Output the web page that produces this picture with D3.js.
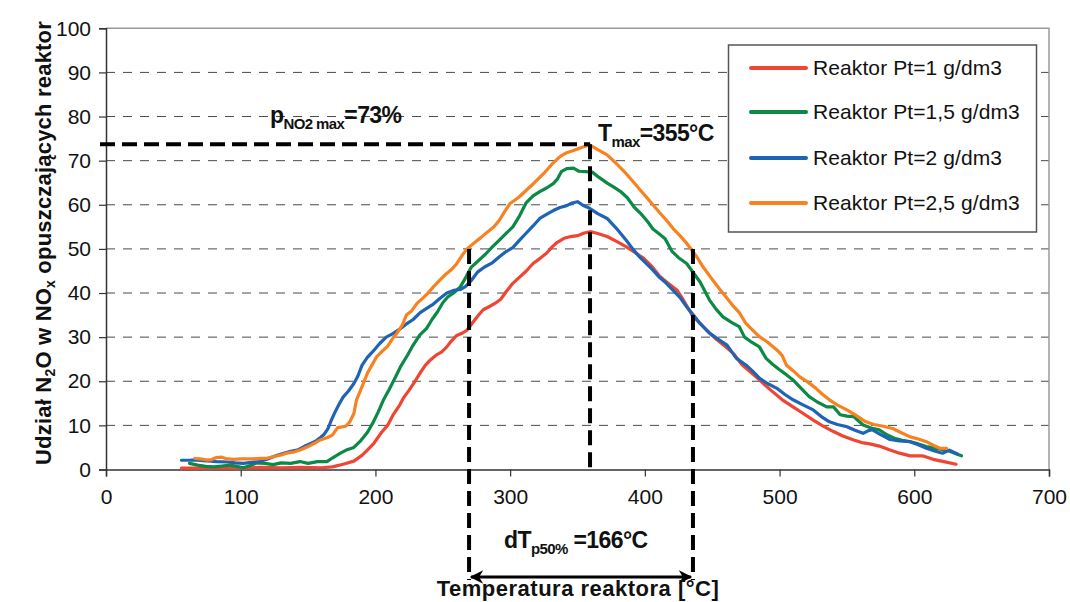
<!DOCTYPE html>
<html>
<head>
<meta charset="utf-8">
<script src="https://cdn.jsdelivr.net/npm/d3@7"></script>
<style>
  body { margin: 0; background: #fff; }
  svg text { font-family: "Liberation Sans", Arial, sans-serif; }
</style>
</head>
<body>
<div id="chart"></div>
<script>
// data
var xTicks = [0, 100, 200, 300, 400, 500, 600, 700];
var yTicks = [0, 10, 20, 30, 40, 50, 60, 70, 80, 90, 100];

var seriesNames = ["Reaktor Pt=1 g/dm3", "Reaktor Pt=1,5 g/dm3", "Reaktor Pt=2 g/dm3", "Reaktor Pt=2,5 g/dm3"];
var seriesColors = ["#ef4634", "#0b8a46", "#1f64b4", "#f7821f"];

var redT = [56,70,85,100,115,130,145,160,168,176,184,190,194,199,204,209,213,218,221,225,229,233,237,241,245,249,253,256,260,265,268,272,276,280,285,289,293,297,302,307,312,317,322,327,331,335,340,345,350,355,360,365,372,379,386,392,399,405,411,417,424,429,435,442,448,454,460,466,472,478,484,490,495,502,510,517,525,532,540,547,555,561,567,574,582,589,597,606,614,622,631];
var redV = [0.3,0.3,0.4,0.3,0.5,0.4,0.5,0.4,0.6,1.2,1.9,3.2,4.4,6.0,8.2,10.0,12.3,14.6,16.3,18.0,19.8,21.8,23.6,24.9,25.9,26.6,27.8,29.0,30.3,31.0,31.6,33.2,34.8,36.2,37.0,37.7,38.6,40.3,42.2,43.6,45.0,46.7,47.8,49.0,50.4,51.5,52.4,52.8,53.0,53.6,53.9,53.5,52.8,51.7,50.5,49.3,47.9,46.1,43.8,42.3,40.6,38.2,35.0,32.8,30.9,29.3,27.8,26.2,23.8,22.2,20.6,18.9,17.6,15.8,14.2,12.8,11.2,9.9,8.6,7.6,6.7,6.1,5.8,5.3,4.4,3.7,3.1,3.1,2.3,1.8,1.2];

var greenT = [62,68,74,80,86,92,97,102,107,112,118,124,130,137,144,150,157,164,168,174,179,184,189,194,198,202,206,210,215,219,224,228,233,238,242,246,250,254,258,263,267,271,276,282,287,292,297,302,307,312,317,322,327,332,335,338,342,347,351,356,361,366,372,377,382,387,392,397,402,406,411,415,420,425,431,436,441,448,453,458,464,470,474,479,485,490,495,500,505,510,516,522,528,535,540,545,550,555,562,568,574,580,586,591,597,603,609,616,624,630,635];
var greenV = [1.4,1.0,0.7,0.6,0.8,1.0,0.7,0.4,0.9,1.5,1.4,1.1,1.5,1.4,1.8,1.4,1.8,1.8,2.6,3.7,4.5,5.0,6.5,8.4,10.5,13.0,15.8,18.0,21.0,23.5,26.0,28.2,30.5,32.0,34.0,35.7,37.8,39.2,40.0,41.4,43.5,45.8,47.2,48.9,50.5,52.0,53.5,55.0,57.5,60.5,62.0,63.0,63.8,64.8,65.8,67.5,68.2,68.3,67.6,67.5,67.4,66.2,64.9,64.0,63.0,61.6,59.5,58.0,56.2,54.5,53.3,52.3,49.5,48.0,46.7,44.6,42.5,38.4,36.3,34.6,33.4,32.4,30.0,28.9,27.8,25.2,23.8,22.6,21.5,20.3,18.4,16.5,15.3,14.2,14.2,12.4,12.1,12.0,10.1,9.4,9.0,7.8,7.0,6.6,6.3,5.8,5.2,4.8,4.4,3.7,3.1];

var blueT = [56,62,66,72,78,82,90,96,102,108,114,120,126,132,137,142,147,152,156,159,162,165,167,170,173,176,180,184,187,190,194,198,203,208,213,218,223,228,233,238,243,248,253,258,263,267,271,276,281,287,292,297,302,307,312,317,322,327,332,337,342,346,350,354,359,365,372,379,386,391,396,401,406,411,416,421,426,431,435,441,448,454,461,468,475,480,485,491,498,504,510,517,525,531,537,543,550,556,562,566,569,575,582,589,597,603,609,615,621,626,632];
var blueV = [2.1,2.1,2.2,2.0,1.9,1.8,1.7,1.5,1.4,1.6,1.8,2.4,3.1,3.7,4.1,4.4,5.2,5.9,6.5,7.2,8.0,9.4,11.0,13.0,14.8,16.4,17.8,19.5,21.2,23.6,25.4,26.7,28.5,30.0,30.8,31.8,33.0,34.0,35.5,36.5,37.5,38.8,40.0,40.6,40.8,41.5,42.8,44.8,45.9,46.9,48.2,49.4,50.3,52.0,53.6,55.2,56.9,57.8,58.7,59.4,59.8,60.4,60.7,59.9,59.2,58.0,56.9,54.6,52.0,50.0,48.2,46.7,45.2,43.5,42.2,40.6,39.0,36.9,35.4,33.1,30.9,29.6,28.2,25.2,23.7,22.3,20.7,19.5,18.4,17.0,15.8,14.7,13.5,12.0,10.8,10.2,9.7,8.9,8.2,8.8,9.0,7.9,6.8,6.5,6.3,5.6,4.8,4.2,3.7,4.4,3.5];

var orangeT = [66,70,74,78,82,86,90,95,100,108,115,120,124,130,134,140,144,150,155,159,164,168,172,178,181,184,186,189,194,198,201,205,209,213,216,220,223,227,231,235,239,243,248,252,256,260,265,268,273,278,283,288,292,296,300,306,312,318,325,331,337,342,347,353,359,365,372,379,386,392,397,401,406,411,416,421,426,431,434,439,443,449,456,461,466,470,475,480,485,491,498,502,505,510,515,521,527,532,537,543,550,557,564,570,577,584,590,597,603,609,614,619,624];
var orangeV = [2.5,2.4,2.2,2.2,2.7,2.8,2.4,2.3,2.4,2.4,2.5,2.6,2.9,3.3,3.7,4.0,4.4,5.2,6.0,6.7,7.2,7.8,9.5,9.8,10.8,12.7,15.8,18.0,21.8,24.0,25.6,26.8,27.9,29.8,30.9,32.8,35.0,36.0,37.7,38.8,40.0,41.4,43.0,44.2,45.2,46.5,48.8,50.0,51.3,52.5,53.8,55.0,56.5,58.5,60.3,61.6,63.3,65.0,67.1,69.2,70.9,71.8,72.3,73.0,73.6,72.5,71.3,69.3,67.1,65.0,63.2,61.8,60.0,58.2,56.5,54.6,53.0,51.3,50.1,48.0,46.0,43.5,40.7,38.8,36.9,35.6,33.1,31.6,30.1,28.9,27.1,25.8,23.7,22.4,21.0,19.8,18.4,17.0,15.8,14.6,13.5,12.2,10.8,10.2,9.8,9.3,8.4,7.4,6.9,6.3,5.5,4.8,4.8];

// annotation values (where the dashed guides sit on the picture)
var pMaxLine = 73.7;
var tMaxLine = 359.3;
var t50Lines = [269.5, 435.7];
var level50 = 50;

var svgWidth = 1070;
var svgHeight = 602;

var svg = d3.select("#chart")
  .append("svg")
  .attr("width", svgWidth)
  .attr("height", svgHeight);

var xScale = d3.scaleLinear().domain([0, 700]).range([106, 1049]);
var yScale = d3.scaleLinear().domain([0, 100]).range([469.5, 28.3]);

// gridlines
svg.append("g")
  .selectAll("line")
  .data(yTicks.filter(d => d > 0 && d < 100))
  .enter()
  .append("line")
  .attr("x1", xScale(0))
  .attr("x2", xScale(700))
  .attr("y1", d => yScale(d))
  .attr("y2", d => yScale(d))
  .attr("stroke", "#4a4a4a")
  .attr("stroke-width", 1)
  .attr("stroke-dasharray", "9,8");

// plot frame top/right
svg.append("path")
  .attr("d", `M${xScale(0)},${yScale(100)}H${xScale(700)}V${yScale(0)}`)
  .attr("fill", "none")
  .attr("stroke", "#9a9a9a")
  .attr("stroke-width", 1.5);

// axes
var xAxis = d3.axisBottom(xScale).tickValues(xTicks).tickSizeOuter(0).tickSize(7).tickPadding(8);
var yAxis = d3.axisLeft(yScale).tickValues(yTicks).tickSizeOuter(0).tickSize(7).tickPadding(8);

var gx = svg.append("g")
  .attr("transform", `translate(0, ${yScale(0)})`)
  .call(xAxis);
var gy = svg.append("g")
  .attr("transform", `translate(${xScale(0)}, 0)`)
  .call(yAxis);

[gx, gy].forEach(function(g) {
  g.select(".domain").attr("stroke", "#333").attr("stroke-width", 1.5);
  g.selectAll(".tick line").attr("stroke", "#333").attr("stroke-width", 1.2);
  g.selectAll(".tick text")
    .attr("font-size", "21px")
    .attr("font-family", "Liberation Sans, Arial, sans-serif")
    .attr("fill", "#111");
});
gx.selectAll(".tick text").attr("dy", "0.95em");

// curves
var line = d3.line()
  .x(d => xScale(d[0]))
  .y(d => yScale(d[1]));

var series = [
  d3.zip(redT, redV),
  d3.zip(greenT, greenV),
  d3.zip(blueT, blueV),
  d3.zip(orangeT, orangeV)
];

svg.append("g")
  .selectAll("path")
  .data(series)
  .enter()
  .append("path")
  .attr("d", line)
  .attr("fill", "none")
  .attr("stroke", (d, i) => seriesColors[i])
  .attr("stroke-width", 3.2)
  .attr("stroke-linejoin", "round")
  .attr("stroke-linecap", "round");

// thick dashed guides
var guide = svg.append("g")
  .attr("stroke", "#000")
  .attr("stroke-width", 4)
  .attr("stroke-dasharray", "15,7")
  .attr("fill", "none");

guide.append("line")
  .attr("x1", xScale(0) - 6)
  .attr("x2", xScale(tMaxLine))
  .attr("y1", yScale(pMaxLine))
  .attr("y2", yScale(pMaxLine));

guide.append("line")
  .attr("x1", xScale(tMaxLine))
  .attr("x2", xScale(tMaxLine))
  .attr("y1", yScale(pMaxLine))
  .attr("y2", yScale(0));

guide.selectAll(".t50")
  .data(t50Lines)
  .enter()
  .append("line")
  .attr("x1", d => xScale(d))
  .attr("x2", d => xScale(d))
  .attr("y1", yScale(level50))
  .attr("y2", 580);

// double arrow for dT
svg.append("defs")
  .append("marker")
  .attr("id", "arrow")
  .attr("viewBox", "0 0 10 10")
  .attr("refX", 9)
  .attr("refY", 5)
  .attr("markerWidth", 6)
  .attr("markerHeight", 4.5)
  .attr("orient", "auto-start-reverse")
  .append("path")
  .attr("d", "M0,0 L10,5 L0,10 L3,5 Z")
  .attr("fill", "#000");

svg.append("line")
  .attr("x1", xScale(t50Lines[0]) + 2)
  .attr("x2", xScale(t50Lines[1]) - 2)
  .attr("y1", 577)
  .attr("y2", 577)
  .attr("stroke", "#000")
  .attr("stroke-width", 3)
  .attr("marker-start", "url(#arrow)")
  .attr("marker-end", "url(#arrow)");

// annotation labels
function subLabel(x, y, main, sub, rest) {
  var t = svg.append("text")
    .attr("x", x)
    .attr("y", y)
    .attr("font-size", "23px")
    .attr("font-weight", "bold")
    .attr("fill", "#111")
    .attr("letter-spacing", "-0.6px");
  t.append("tspan").text(main);
  t.append("tspan").attr("font-size", "15px").attr("dy", 6).text(sub);
  t.append("tspan").attr("dy", -6).text(rest);
}
subLabel(270, 123, "p", "NO2 max", "=73%");
subLabel(598, 141, "T", "max", "=355°C");
subLabel(504, 548, "dT", "p50%", " =166°C");

// axis titles
svg.append("text")
  .attr("x", 578)
  .attr("y", 596)
  .attr("text-anchor", "middle")
  .attr("font-size", "22px")
  .attr("font-weight", "bold")
  .attr("letter-spacing", "0.5px")
  .attr("fill", "#111")
  .text("Temperatura reaktora [°C]");

var yTitle = svg.append("text")
  .attr("transform", "translate(51, 243) rotate(-90)")
  .attr("text-anchor", "middle")
  .attr("font-size", "22px")
  .attr("font-weight", "bold")
  .attr("letter-spacing", "0.2px")
  .attr("fill", "#111");
yTitle.append("tspan").text("Udział N");
yTitle.append("tspan").attr("font-size", "14px").attr("dy", 4).text("2");
yTitle.append("tspan").attr("dy", -4).text("O w NO");
yTitle.append("tspan").attr("font-size", "14px").attr("dy", 4).text("x");
yTitle.append("tspan").attr("dy", -4).text(" opuszczających reaktor");

// legend
var legend = svg.append("g");
legend.append("rect")
  .attr("x", 728.5)
  .attr("y", 45)
  .attr("width", 308)
  .attr("height", 187)
  .attr("fill", "#fff")
  .attr("stroke", "#555")
  .attr("stroke-width", 1.5);

var legendY = [68, 112, 158, 203];
var items = legend.selectAll(".item")
  .data(seriesNames)
  .enter()
  .append("g")
  .attr("transform", (d, i) => `translate(0, ${legendY[i]})`);

items.append("line")
  .attr("x1", 751)
  .attr("x2", 806)
  .attr("stroke", (d, i) => seriesColors[i])
  .attr("stroke-width", 4)
  .attr("stroke-linecap", "round");

items.append("text")
  .attr("x", 813)
  .attr("y", 7)
  .attr("font-size", "21px")
  .attr("letter-spacing", "0.1px")
  .attr("fill", "#111")
  .text(d => d);
</script>
</body>
</html>
